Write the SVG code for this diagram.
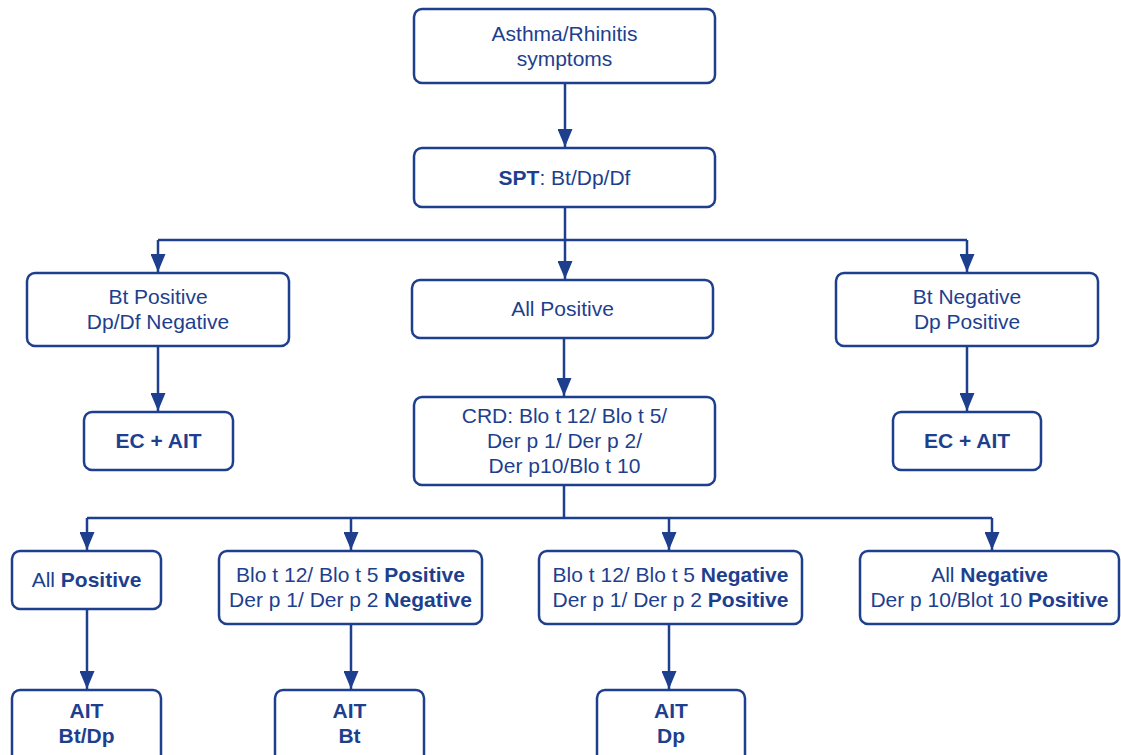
<svg xmlns="http://www.w3.org/2000/svg" width="1121" height="755" viewBox="0 0 1121 755">
<defs>
<marker id="arr" markerUnits="userSpaceOnUse" markerWidth="18" markerHeight="15" viewBox="0 0 18 15" refX="18" refY="7.5" orient="auto">
<path d="M0,0 L18,7.5 L0,15 Z" fill="#1E3F8E"/>
</marker>
</defs>
<style>
.box{fill:#fff;stroke:#1E3F8E;stroke-width:2.5}
.t{font-family:"Liberation Sans",Arial,sans-serif;font-size:21px;fill:#1E3F8E;text-anchor:middle}
.b{font-weight:bold}
.c{fill:none;stroke:#1E3F8E;stroke-width:2.5}
</style>
<rect width="1121" height="755" fill="#fff"/>
<g id="connectors">
<path class="c" d="M565,83 V147" marker-end="url(#arr)"/>
<path class="c" d="M565,207 V279" marker-end="url(#arr)"/>
<path class="c" d="M158,240 H967"/>
<path class="c" d="M158,240 V272" marker-end="url(#arr)"/>
<path class="c" d="M967,240 V272" marker-end="url(#arr)"/>
<path class="c" d="M158,346 V411" marker-end="url(#arr)"/>
<path class="c" d="M967,346 V411" marker-end="url(#arr)"/>
<path class="c" d="M564,338 V396" marker-end="url(#arr)"/>
<path class="c" d="M564,485 V518"/>
<path class="c" d="M87,518 H992"/>
<path class="c" d="M87,518 V550" marker-end="url(#arr)"/>
<path class="c" d="M351,518 V550" marker-end="url(#arr)"/>
<path class="c" d="M669,518 V550" marker-end="url(#arr)"/>
<path class="c" d="M992,518 V550" marker-end="url(#arr)"/>
<path class="c" d="M87,609 V689" marker-end="url(#arr)"/>
<path class="c" d="M351,624 V689" marker-end="url(#arr)"/>
<path class="c" d="M669,624 V689" marker-end="url(#arr)"/>
</g>
<g id="n-symptoms">
<rect class="box" x="414" y="9" width="301" height="74" rx="8"/>
<text class="t" x="564.5" y="41">Asthma/Rhinitis</text>
<text class="t" x="564.5" y="66">symptoms</text>
</g>
<g id="n-spt">
<rect class="box" x="414" y="148" width="301" height="59" rx="8"/>
<text class="t" x="564.5" y="185"><tspan class="b">SPT</tspan>: Bt/Dp/Df</text>
</g>
<g id="n-btpos">
<rect class="box" x="27" y="273" width="262" height="73" rx="8"/>
<text class="t" x="158" y="304">Bt Positive</text>
<text class="t" x="158" y="329">Dp/Df Negative</text>
</g>
<g id="n-allpos">
<rect class="box" x="412" y="280" width="301" height="58" rx="8"/>
<text class="t" x="562.5" y="316">All Positive</text>
</g>
<g id="n-btneg">
<rect class="box" x="836" y="273" width="262" height="73" rx="8"/>
<text class="t" x="967" y="304">Bt Negative</text>
<text class="t" x="967" y="329">Dp Positive</text>
</g>
<g id="n-ec1">
<rect class="box" x="84" y="412" width="149" height="58" rx="8"/>
<text class="t b" x="158.5" y="448">EC + AIT</text>
</g>
<g id="n-crd">
<rect class="box" x="414" y="397" width="301" height="88" rx="8"/>
<text class="t" x="564.5" y="423">CRD: Blo t 12/ Blo t 5/</text>
<text class="t" x="564.5" y="448">Der p 1/ Der p 2/</text>
<text class="t" x="564.5" y="473">Der p10/Blo t 10</text>
</g>
<g id="n-ec2">
<rect class="box" x="893" y="412" width="148" height="58" rx="8"/>
<text class="t b" x="967" y="448">EC + AIT</text>
</g>
<g id="n-all-positive">
<rect class="box" x="12" y="551" width="149" height="58" rx="8"/>
<text class="t" x="86.5" y="587">All <tspan class="b">Positive</tspan></text>
</g>
<g id="n-blo-pos">
<rect class="box" x="219" y="551" width="263" height="73" rx="8"/>
<text class="t" x="350.5" y="582">Blo t 12/ Blo t 5 <tspan class="b">Positive</tspan></text>
<text class="t" x="350.5" y="607">Der p 1/ Der p 2 <tspan class="b">Negative</tspan></text>
</g>
<g id="n-blo-neg">
<rect class="box" x="539" y="551" width="263" height="73" rx="8"/>
<text class="t" x="670.5" y="582">Blo t 12/ Blo t 5 <tspan class="b">Negative</tspan></text>
<text class="t" x="670.5" y="607">Der p 1/ Der p 2 <tspan class="b">Positive</tspan></text>
</g>
<g id="n-all-negative">
<rect class="box" x="860" y="551" width="259" height="73" rx="8"/>
<text class="t" x="989.5" y="582">All <tspan class="b">Negative</tspan></text>
<text class="t" x="989.5" y="607">Der p 10/Blot 10 <tspan class="b">Positive</tspan></text>
</g>
<g id="n-ait-btdp">
<rect class="box" x="12" y="690" width="149" height="73" rx="8"/>
<text class="t b" x="86.5" y="718">AIT</text>
<text class="t b" x="86.5" y="743">Bt/Dp</text>
</g>
<g id="n-ait-bt">
<rect class="box" x="275" y="690" width="149" height="73" rx="8"/>
<text class="t b" x="349.5" y="718">AIT</text>
<text class="t b" x="349.5" y="743">Bt</text>
</g>
<g id="n-ait-dp">
<rect class="box" x="597" y="690" width="148" height="73" rx="8"/>
<text class="t b" x="671" y="718">AIT</text>
<text class="t b" x="671" y="743">Dp</text>
</g>
</svg>
